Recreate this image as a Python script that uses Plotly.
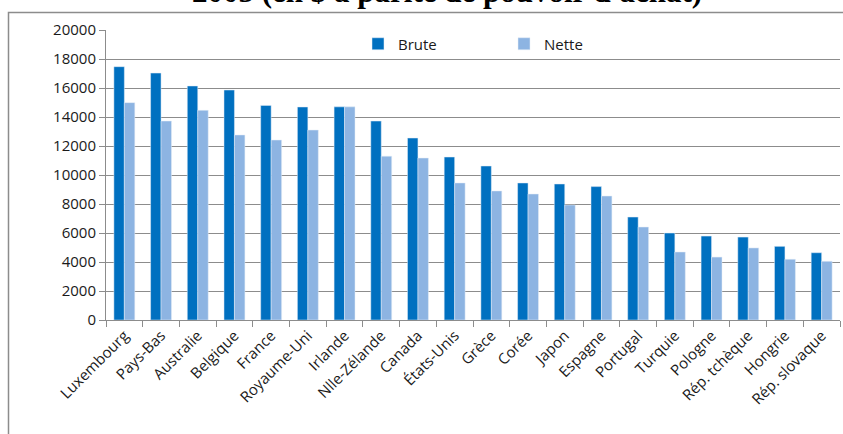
import plotly.graph_objects as go

# Rémunération brute / nette par pays
pays = ["Luxembourg", "Pays-Bas", "Australie", "Belgique", "France", "Royaume-Uni",
        "Irlande", "Nlle-Zélande", "Canada", "États-Unis", "Grèce", "Corée", "Japon",
        "Espagne", "Portugal", "Turquie", "Pologne", "Rép. tchèque", "Hongrie",
        "Rép. slovaque"]
brute = [17470, 17030, 16140, 15860, 14800, 14690, 14700, 13720, 12550, 11240,
         10620, 9450, 9380, 9200, 7100, 6000, 5790, 5720, 5080, 4640]
nette = [14990, 13720, 14460, 12760, 12410, 13100, 14700, 11300, 11170, 9450,
         8900, 8690, 7930, 8550, 6410, 4690, 4340, 4970, 4190, 4050]
y_ticks = list(range(0, 20001, 2000))

W, H = 843, 434
L, R, T, B = 106, 3, 30, 114
pw, ph = W - L - R, H - T - B


def px(x):
    return (x - L) / pw


def py(y):
    return (H - B - y) / ph


fig = go.Figure()
fig.add_trace(go.Bar(x=pays, y=brute, name="Brute", marker_color="#0070C0"))
fig.add_trace(go.Bar(x=pays, y=nette, name="Nette", marker_color="#8DB4E2"))

fig.update_layout(
    width=W, height=H,
    margin=dict(l=L, r=R, t=T, b=B, autoexpand=False),
    paper_bgcolor="white", plot_bgcolor="white",
    barmode="group", bargap=0.43, bargroupgap=0,
    font=dict(family="Open Sans", size=15, color="#1a1a1a"),
    showlegend=True,
    legend=dict(orientation="h", x=px(358), y=py(44), yanchor="middle", xanchor="left",
                bgcolor="rgba(255,255,255,0)", entrywidth=101, entrywidthmode="pixels",
                font=dict(size=15), itemwidth=30, tracegroupgap=0),
)
fig.update_yaxes(range=[0, 20000], tickvals=y_ticks, tickformat="d", showgrid=True,
                 gridcolor="#8c8c8c", gridwidth=1, showline=True, linecolor="#8c8c8c",
                 ticks="outside", ticklen=6, tickcolor="#8c8c8c", zeroline=False,
                 ticksuffix="   ", tickfont=dict(size=15), automargin=False)
fig.update_xaxes(tickangle=-45, showline=True, linecolor="#8c8c8c", ticks="outside",
                 tickson="boundaries", ticklen=6, tickcolor="#8c8c8c",
                 tickfont=dict(size=15), automargin=False)

# cadre extérieur du graphique
fig.add_shape(type="rect", xref="paper", yref="paper",
              x0=px(8.5), x1=px(850), y0=py(445), y1=py(12.5),
              line=dict(color="#8c8c8c", width=1.5), fillcolor="rgba(0,0,0,0)", layer="below")

# titre coupé en haut
fig.add_annotation(text="2005 (en $ à parité de pouvoir d'achat)", xref="paper", yref="paper",
                   x=px(190), y=py(-9), xanchor="left", yanchor="middle", showarrow=False,
                   font=dict(family="Liberation Serif", size=31, color="black"))
fig.update_annotations(font_weight="bold")

# pas de marge autour du graphique dans la page
fig.write_html("out.html", config={"displayModeBar": False},
               post_script="document.body.style.margin='0';")
